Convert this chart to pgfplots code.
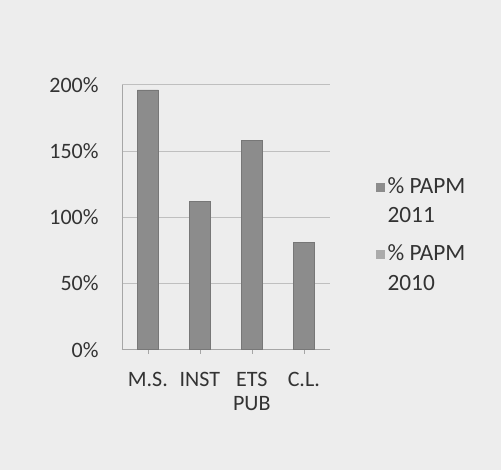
\documentclass[border=0pt]{standalone}
\usepackage{pgfplots}
\pgfplotsset{compat=1.18}
\usepackage{fontspec}
\setmainfont{Carlito}
\definecolor{bg}{HTML}{EDEDED}
\definecolor{bar}{HTML}{8C8C8C}
\definecolor{barlight}{HTML}{ABABAB}
\begin{document}
\begin{tikzpicture}
\fill[bg] (0,0) rectangle (376pt,352.5pt);
\begin{axis}[
  at={(91.5pt,90pt)}, anchor=south west,
  scale only axis, width=156pt, height=199pt,
  ymin=0, ymax=200,
  ytick={0,50,100,150,200},
  yticklabel={\pgfmathprintnumber{\tick}\%},
  xmin=-0.5, xmax=3.5,
  xtick=data,
  xticklabels={M.S.,INST,ETS\\PUB,C.L.},
  xticklabel style={align=center, anchor=north, yshift=-10pt},
  /pgf/number format/assume math mode=true,
  tick label style={font=\fontsize{16.5}{18}\selectfont, text=black!80},
  yticklabel style={xshift=-14pt},
  ymajorgrids, grid style={black!25},
  axis line style={black!35},
  axis x line*=bottom, axis y line*=left,
  tick style={black!35}, major tick length=3pt,
  ytick style={draw=none},
  ybar, bar width=15.75pt,
  axis background/.style={fill=bg},
  legend style={at={(1.20,0.67)}, anchor=north west, draw=none, fill=none,
    font=\fontsize{17.5}{22}\selectfont, text=black!80, cells={align=left},
    row sep=11pt},
  legend image code/.code={\fill[#1, draw=none] (0pt,7pt) rectangle (7pt,14pt);},
]
\addplot[fill=bar, draw=bar!85!black] coordinates {(0,196) (1,112) (2,158) (3,81)};
\addlegendentry{\% PAPM\\2011}
\addlegendimage{fill=barlight, draw=none}
\addlegendentry{\% PAPM\\2010}
\end{axis}
\end{tikzpicture}
\end{document}
